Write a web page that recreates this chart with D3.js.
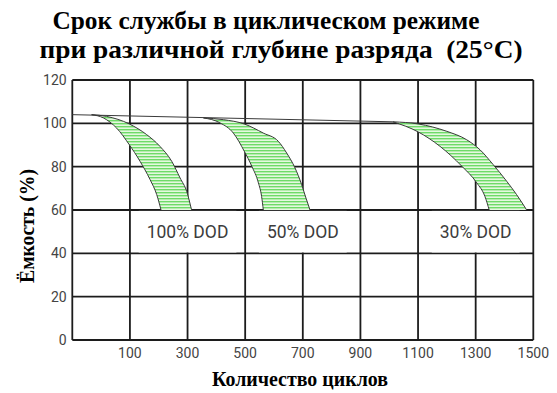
<!DOCTYPE html>
<html>
<head>
<meta charset="utf-8">
<script src="https://cdn.jsdelivr.net/npm/d3@7/dist/d3.min.js"></script>
<style>
  html, body { margin: 0; padding: 0; background: #fff; }
  svg { display: block; }
</style>
</head>
<body>
<svg id="chart" width="557" height="393"></svg>
<script>
// ---------- data ----------
const titleLines = ["Срок службы в циклическом режиме", "при различной глубине разряда  (25°C)"];
const yTitle = "Ёмкость (%)";
const xTitle = "Количество циклов";
const xTicks = [100, 300, 500, 700, 900, 1100, 1300, 1500];
const yTicks = [0, 20, 40, 60, 80, 100, 120];
const dodLabels = ["100% DOD", "50% DOD", "30% DOD"];
const dodLabelX = [300, 700, 1300];
const dodLabelY = 50;

// common capacity line before the bands
const topLine = [[-100, 104.0], [1013, 100.7]];

// 100% DOD band
const band100Outer = [[-33, 104.0], [19, 103.2], [98, 99.7], [158, 94.8], [204, 89.4], [245, 82.5], [274, 74.8], [297, 68.6], [314, 60]];
const band100Inner = [[-33, 104.0], [8, 102.5], [54, 97.8], [98, 90.1], [135, 82.5], [170, 74.0], [193, 67.1], [208, 60]];
// 50% DOD band
const band50Outer = [[355, 102.5], [424, 101.7], [497, 99.7], [563, 95.5], [615, 91.7], [644, 86.3], [673, 79.4], [696, 71.7], [711, 65.5], [725, 60]];
const band50Inner = [[355, 102.5], [413, 100.2], [459, 95.5], [497, 87.1], [523, 80.2], [546, 72.5], [557, 66.3], [563, 60]];
// 30% DOD band
const band30Outer = [[1013, 100.7], [1101, 99.7], [1200, 96.3], [1269, 92.4], [1315, 87.8], [1361, 80.9], [1408, 73.2], [1442, 67.1], [1477, 60]];
const band30Inner = [[1013, 100.7], [1101, 96.0], [1176, 89.4], [1252, 80.2], [1304, 72.5], [1332, 66.3], [1347, 60]];

const bands = [
  { outer: band100Outer, inner: band100Inner },
  { outer: band50Outer, inner: band50Inner },
  { outer: band30Outer, inner: band30Inner }
];

// ---------- layout ----------
const plot = { left: 72.3, right: 533.3, top: 80, bottom: 340 };

const svg = d3.select("#chart");

const x = d3.scaleLinear().domain([-100, 1500]).range([plot.left, plot.right]);
const y = d3.scaleLinear().domain([0, 120]).range([plot.bottom, plot.top]);

// pattern for band fill
const defs = svg.append("defs");
const pat = defs.append("pattern")
  .attr("id", "stripes")
  .attr("patternUnits", "userSpaceOnUse")
  .attr("width", 6).attr("height", 3);
pat.append("rect").attr("width", 6).attr("height", 3).attr("fill", "#e4f8df");
pat.append("rect").attr("y", 0).attr("width", 6).attr("height", 1.4).attr("fill", "#6edb68");

// ---------- grid ----------
const gridColor = "#1c1c1c";
const gridW = 1.8;
const g = svg.append("g");

g.selectAll("line.h").data(yTicks).join("line")
  .attr("x1", plot.left).attr("x2", plot.right)
  .attr("y1", d => y(d)).attr("y2", d => y(d))
  .attr("stroke", gridColor).attr("stroke-width", gridW);

g.selectAll("line.v").data([x.domain()[0], ...xTicks]).join("line")
  .attr("x1", d => x(d)).attr("x2", d => x(d))
  .attr("y1", plot.top).attr("y2", plot.bottom)
  .attr("stroke", gridColor).attr("stroke-width", gridW);

// ---------- bands ----------
const line = d3.line().x(d => x(d[0])).y(d => y(d[1])).curve(d3.curveMonotoneX);

bands.forEach(b => {
  const outerPath = line(b.outer);
  const innerPath = line(b.inner);
  const innerBack = line(b.inner.slice().reverse());
  const fullArea = outerPath + "L" + innerBack.slice(1) + "Z";
  svg.append("path").attr("d", fullArea).attr("fill", "url(#stripes)").attr("stroke", "none");
  svg.append("path").attr("d", outerPath).attr("fill", "none").attr("stroke", "#3a3a3a").attr("stroke-width", 1);
  svg.append("path").attr("d", innerPath).attr("fill", "none").attr("stroke", "#3a3a3a").attr("stroke-width", 1);
});

svg.append("path").attr("d", d3.line().x(d => x(d[0])).y(d => y(d[1]))(topLine))
  .attr("fill", "none").attr("stroke", "#3a3a3a").attr("stroke-width", 1);

// ---------- DOD labels ----------
dodLabels.forEach((t, i) => {
  const cx = x(dodLabelX[i]);
  const txt = svg.append("text")
    .attr("x", cx).attr("y", y(dodLabelY))
    .attr("text-anchor", "middle").attr("dominant-baseline", "central")
    .attr("font-family", "Roboto, 'DejaVu Sans', sans-serif")
    .attr("font-size", 17.5).attr("fill", "#3c3c3c")
    .text(t);
  const bb = txt.node().getBBox();
  svg.insert("rect", () => txt.node())
    .attr("x", bb.x - 8).attr("width", bb.width + 16)
    .attr("y", y(60) + gridW / 2).attr("height", y(40) - y(60) - gridW)
    .attr("fill", "#fff");
});

// ---------- tick labels ----------
const tickFont = "Roboto, 'DejaVu Sans', sans-serif";
svg.selectAll("text.yt").data(yTicks).join("text")
  .attr("x", 66.7).attr("y", d => y(d))
  .attr("text-anchor", "end").attr("dominant-baseline", "central")
  .attr("font-family", tickFont).attr("font-size", 14).attr("fill", "#444")
  .text(d => d);

svg.selectAll("text.xt").data(xTicks).join("text")
  .attr("x", d => x(d)).attr("y", 358)
  .attr("text-anchor", "middle")
  .attr("font-family", tickFont).attr("font-size", 14).attr("fill", "#444")
  .text(d => d);

// ---------- titles ----------
const serif = "'Liberation Serif', 'Times New Roman', serif";
const titleSpec = [{ cx: 266, y: 29, len: 427 }, { cx: 281, y: 57.5, len: 483 }];
titleLines.forEach((t, i) => {
  svg.append("text")
    .attr("x", titleSpec[i].cx).attr("y", titleSpec[i].y)
    .attr("text-anchor", "middle")
    .attr("font-family", serif).attr("font-weight", "bold").attr("font-size", 25.5)
    .attr("textLength", titleSpec[i].len).attr("lengthAdjust", "spacingAndGlyphs")
    .attr("fill", "#000").style("white-space", "pre")
    .text(t);
});

svg.append("text")
  .attr("transform", "translate(34,226) rotate(-90)")
  .attr("text-anchor", "middle")
  .attr("font-family", serif).attr("font-weight", "bold").attr("font-size", 21)
  .attr("textLength", 114).attr("lengthAdjust", "spacingAndGlyphs")
  .attr("fill", "#000")
  .text(yTitle);

svg.append("text")
  .attr("x", 300).attr("y", 386)
  .attr("text-anchor", "middle")
  .attr("font-family", serif).attr("font-weight", "bold").attr("font-size", 22)
  .attr("textLength", 176).attr("lengthAdjust", "spacingAndGlyphs")
  .attr("fill", "#000")
  .text(xTitle);
</script>
</body>
</html>
